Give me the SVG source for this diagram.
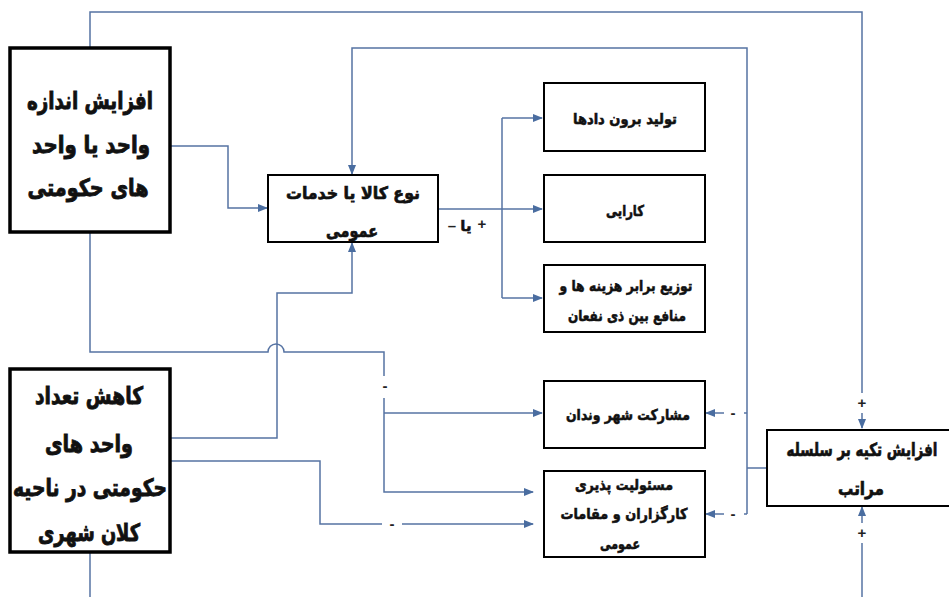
<svg xmlns="http://www.w3.org/2000/svg" width="949" height="597" viewBox="0 0 949 597">
<defs>
<marker id="ah" markerWidth="10" markerHeight="8" refX="9" refY="4" orient="auto" markerUnits="userSpaceOnUse">
<path d="M0,0 L10,4 L0,8 Z" fill="#4a6da0"/>
</marker>
<style>
.box{fill:#fff;stroke:#000;stroke-width:2}
.bigbox{fill:#fff;stroke:#000;stroke-width:3.5}
.c{fill:none;stroke:#5673a3;stroke-width:1.5}
.t{font-family:"DejaVu Sans",sans-serif;font-weight:bold;fill:#111;stroke:#111;text-anchor:middle}
.big{font-size:24px;stroke-width:0.9}
.mid{font-size:17px;stroke-width:0.7}
.sm{font-size:15px;stroke-width:0.6}
.rt{font-size:18px;stroke-width:0.7}
.lbl{font-family:"Liberation Sans",sans-serif;font-size:15px;font-weight:bold;fill:#222;text-anchor:middle}
</style>
</defs>
<rect width="949" height="597" fill="#fff"/>

<g id="connectors">
<path class="c" d="M90,48 V12 H862 V428" marker-end="url(#ah)"/>
<path class="c" d="M747,514 V48 H352 V174" marker-end="url(#ah)"/>
<path class="c" d="M747,468 H767"/>
<path class="c" d="M747,413 H706" marker-end="url(#ah)"/>
<path class="c" d="M747,514 H706" marker-end="url(#ah)"/>
<path class="c" d="M170,146 H228 V208 H267" marker-end="url(#ah)"/>
<path class="c" d="M438,209 H502"/>
<path class="c" d="M502,118 V298"/>
<path class="c" d="M502,118 H542" marker-end="url(#ah)"/>
<path class="c" d="M502,209 H542" marker-end="url(#ah)"/>
<path class="c" d="M502,298 H542" marker-end="url(#ah)"/>
<path class="c" d="M90,232 V352 H268 A8,8 0 0 1 284,352 H384 V492 H533" marker-end="url(#ah)"/>
<path class="c" d="M384,413 H542" marker-end="url(#ah)"/>
<path class="c" d="M90,369 H170 V438 H277 V293 H352 V243" marker-end="url(#ah)"/>
<path class="c" d="M170,461 H320 V524 H533" marker-end="url(#ah)"/>
<path class="c" d="M90,552 V597"/>
<path class="c" d="M862,597 V507" marker-end="url(#ah)"/>
<rect x="376" y="376" width="16" height="22" fill="#fff"/>
<text class="lbl" x="385" y="391">-</text>
<rect x="382" y="514" width="20" height="20" fill="#fff"/>
<text class="lbl" x="392" y="529">-</text>
<rect x="724" y="403" width="20" height="20" fill="#fff"/>
<text class="lbl" x="733" y="418">-</text>
<rect x="724" y="504" width="20" height="20" fill="#fff"/>
<text class="lbl" x="733" y="519">-</text>
<rect x="853" y="393" width="18" height="20" fill="#fff"/>
<text class="lbl" x="862" y="408">+</text>
<rect x="853" y="523" width="18" height="20" fill="#fff"/>
<text class="lbl" x="862" y="538">+</text>
<text class="lbl" x="452" y="231">–</text>
<text class="t" x="466" y="231" style="font-size:15px;stroke-width:0.5">یا</text>
<text class="lbl" x="482" y="229">+</text>
</g>

<g id="node-a">
<rect class="bigbox" x="10" y="48" width="160" height="184"/>
<text class="t big" x="90" y="109" textLength="126" lengthAdjust="spacingAndGlyphs">افزایش اندازه</text>
<text class="t big" x="91" y="153" textLength="118" lengthAdjust="spacingAndGlyphs">واحد یا واحد</text>
<text class="t big" x="88" y="196" textLength="121" lengthAdjust="spacingAndGlyphs">های حکومتی</text>
</g>

<g id="node-b">
<rect class="bigbox" x="10" y="369" width="160" height="183"/>
<text class="t big" x="89" y="404" textLength="108" lengthAdjust="spacingAndGlyphs">کاهش تعداد</text>
<text class="t big" x="89" y="452" textLength="88" lengthAdjust="spacingAndGlyphs">واحد های</text>
<text class="t big" x="90" y="496" textLength="154" lengthAdjust="spacingAndGlyphs">حکومتی در ناحیه</text>
<text class="t big" x="89" y="541" textLength="102" lengthAdjust="spacingAndGlyphs">کلان شهری</text>
</g>

<g id="node-type">
<rect class="box" x="268" y="175" width="170" height="67"/>
<text class="t mid" x="353" y="199" textLength="134" lengthAdjust="spacingAndGlyphs">نوع کالا یا خدمات</text>
<text class="t mid" x="352" y="237" textLength="52" lengthAdjust="spacingAndGlyphs">عمومی</text>
</g>

<g id="node-output">
<rect class="box" x="544" y="83" width="161" height="68"/>
<text class="t sm" x="625" y="124" textLength="104" lengthAdjust="spacingAndGlyphs">تولید برون دادها</text>
</g>

<g id="node-efficiency">
<rect class="box" x="544" y="175" width="161" height="67"/>
<text class="t sm" x="625" y="216" textLength="38" lengthAdjust="spacingAndGlyphs">کارایی</text>
</g>

<g id="node-distribution">
<rect class="box" x="544" y="265" width="161" height="67"/>
<text class="t sm" x="626" y="291" textLength="133" lengthAdjust="spacingAndGlyphs">توزیع برابر هزینه ها و</text>
<text class="t sm" x="627" y="321" textLength="118" lengthAdjust="spacingAndGlyphs">منافع بین ذی نفعان</text>
</g>

<g id="node-participation">
<rect class="box" x="544" y="381" width="161" height="67"/>
<text class="t sm" x="628" y="420" textLength="124" lengthAdjust="spacingAndGlyphs">مشارکت شهر وندان</text>
</g>

<g id="node-accountability">
<rect class="box" x="544" y="471" width="161" height="86"/>
<text class="t sm" x="624" y="490" textLength="98" lengthAdjust="spacingAndGlyphs">مسئولیت پذیری</text>
<text class="t sm" x="624" y="519" textLength="127" lengthAdjust="spacingAndGlyphs">کارگزاران و مقامات</text>
<text class="t sm" x="620" y="549" textLength="40" lengthAdjust="spacingAndGlyphs">عمومی</text>
</g>

<g id="node-hierarchy">
<rect class="box" x="767" y="430" width="190" height="76"/>
<text class="t rt" transform="translate(862,456) scale(0.75,1)" x="0" y="0">افزایش تکیه بر سلسله</text>
<text class="t rt" x="861" y="495" textLength="46" lengthAdjust="spacingAndGlyphs">مراتب</text>
</g>
</svg>
